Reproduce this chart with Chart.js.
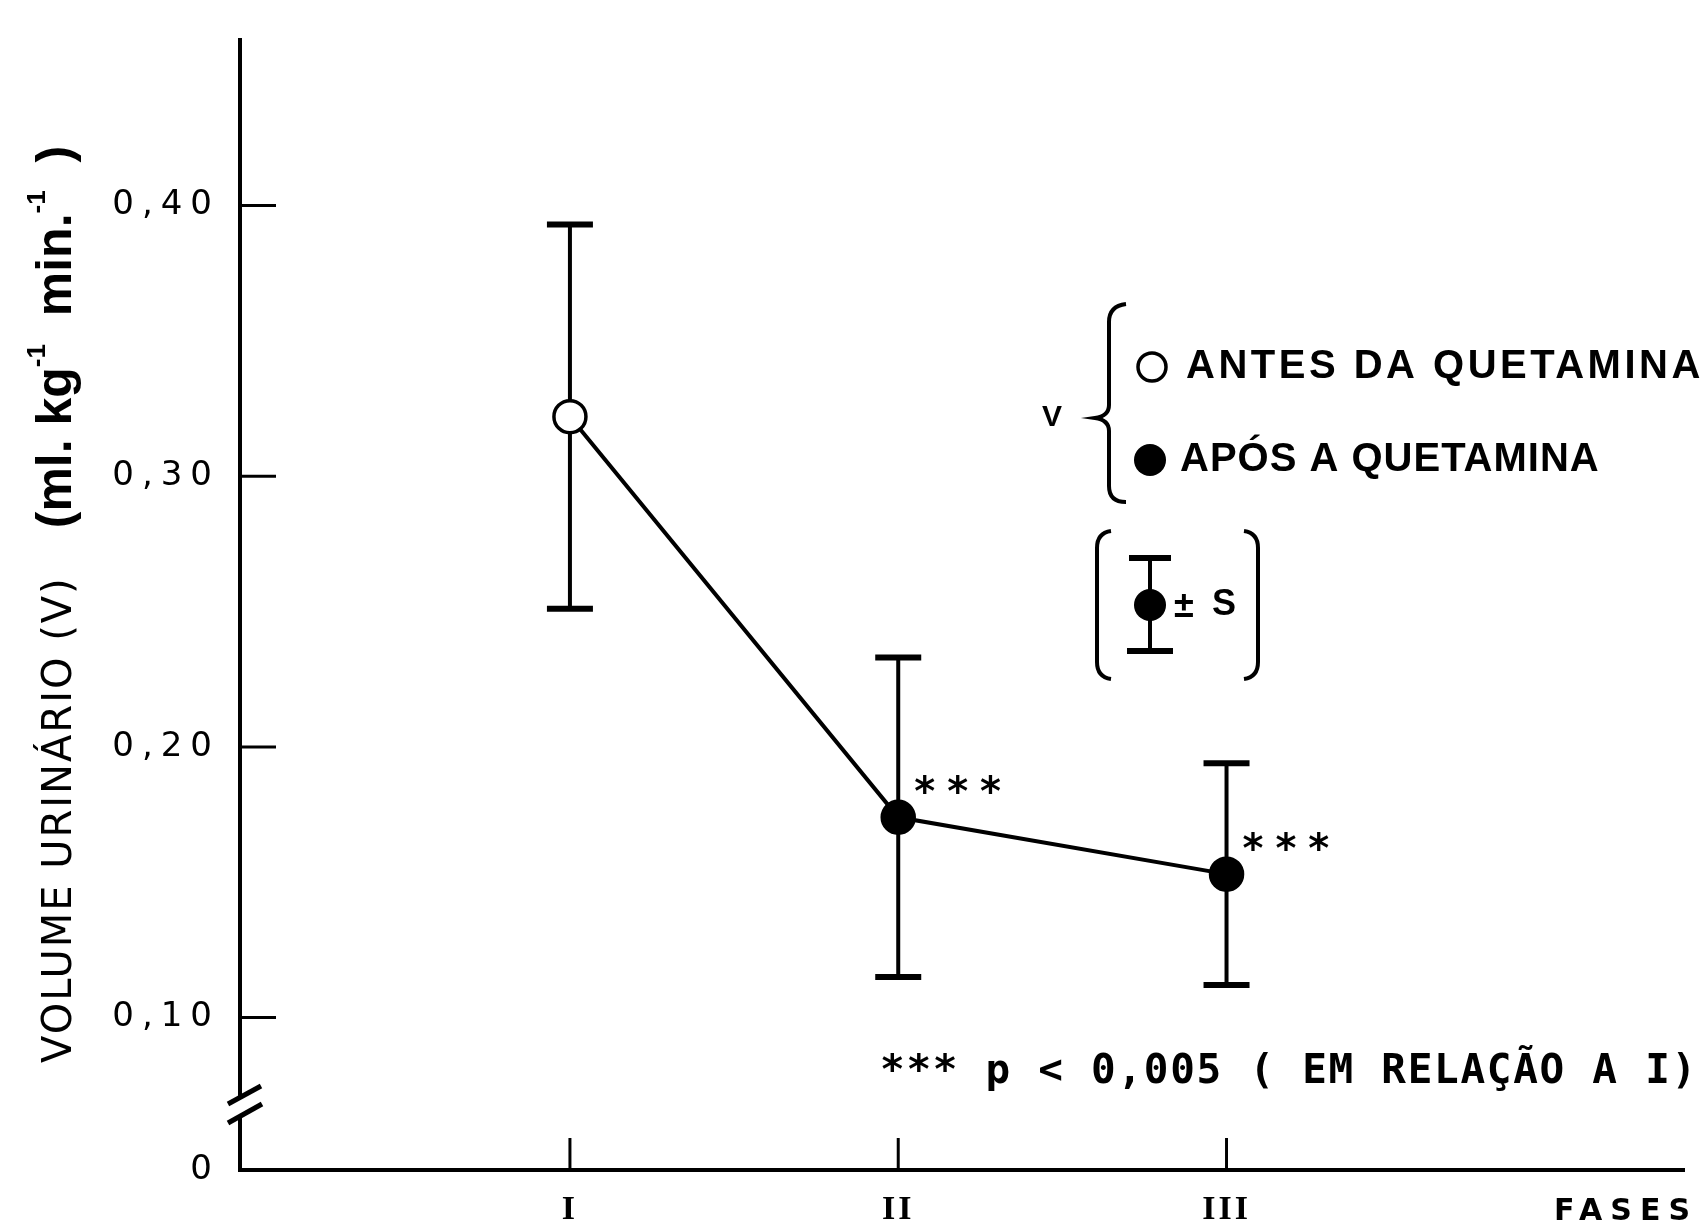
<!DOCTYPE html>
<html>
<head>
<meta charset="utf-8">
<script src="https://cdn.jsdelivr.net/npm/chart.js@4.4.1/dist/chart.umd.min.js"></script>
<style>
  html, body { margin: 0; padding: 0; background: #fff; }
  #wrap { width: 1704px; height: 1229px; }
</style>
</head>
<body>
<div id="wrap"><canvas id="volumeChart"></canvas></div>
<script>
// Fases do experimento e volume urinario (media +- desvio)
const fases = ['I', 'II', 'III'];
const faseX = [1, 2, 3];
const volumeMedio = [0.322, 0.174, 0.153];
const desvioPadrao = [0.071, 0.059, 0.041];
const aposQuetamina = [false, true, true];
const significativo = [false, true, true];

// eixo Y com quebra: o fundo do eixo vale "0"
const yTicks = [0.10, 0.20, 0.30, 0.40];
const yTickLabels = ['0,10', '0,20', '0,30', '0,40'];
const yMin = 0.0437;
const yMax = 0.461;

function line(ctx, x1, y1, x2, y2) {
    ctx.beginPath();
    ctx.moveTo(x1, y1);
    ctx.lineTo(x2, y2);
    ctx.stroke();
}

// barras de erro atras dos pontos
const errorBars = {
    id: 'errorBars',
    beforeDatasetsDraw(chart) {
        const { ctx, scales: { x, y } } = chart;
        ctx.save();
        ctx.strokeStyle = '#000';
        faseX.forEach((fx, i) => {
            const px = x.getPixelForValue(fx);
            const top = y.getPixelForValue(volumeMedio[i] + desvioPadrao[i]);
            const bot = y.getPixelForValue(volumeMedio[i] - desvioPadrao[i]);
            ctx.lineWidth = 4;
            line(ctx, px, top, px, bot);
            ctx.lineWidth = 6;
            line(ctx, px - 23, top, px + 23, top);
            line(ctx, px - 23, bot, px + 23, bot);
        });
        ctx.restore();
    }
};

// marcas dos eixos para dentro, quebra do eixo, textos extras
const extras = {
    id: 'extras',
    beforeDraw(chart) {
        chart.ctx.letterSpacing = '3px';   // rotulos I, II, III
    },
    afterDatasetsDraw(chart) {
        chart.ctx.letterSpacing = '8px';   // rotulos 0,10 ... 0,40 (ticks.z = 1)
    },
    afterDraw(chart) {
        const { ctx, scales: { x, y } } = chart;
        ctx.save();
        ctx.letterSpacing = '0px';
        ctx.strokeStyle = '#000';
        ctx.fillStyle = '#000';
        ctx.lineWidth = 3;
        y.ticks.forEach(t => {
            if (t.value <= yMin) return;
            const py = y.getPixelForValue(t.value);
            line(ctx, x.left, py, x.left + 36, py);
        });
        x.ticks.forEach(t => {
            const px = x.getPixelForValue(t.value);
            line(ctx, px, y.bottom, px, y.bottom - 32);
        });

        // quebra do eixo Y
        ctx.fillStyle = '#fff';
        ctx.fillRect(x.left - 4, 1097, 8, 18);
        ctx.fillStyle = '#000';
        ctx.lineWidth = 5;
        line(ctx, x.left - 12, 1104, x.left + 21, 1086);
        line(ctx, x.left - 12, 1123, x.left + 22, 1104);

        // titulo do eixo Y
        ctx.save();
        ctx.translate(71, 1063);
        ctx.rotate(-Math.PI / 2);
        ctx.textBaseline = 'alphabetic';
        let cx = 0;
        const seg = (txt, font, rise, spacing) => {
            ctx.font = font;
            ctx.letterSpacing = spacing || '0px';
            ctx.fillText(txt, cx, -rise);
            cx += ctx.measureText(txt).width;
        };
        seg('VOLUME URINÁRIO (V)', '40px "DejaVu Sans"', 0, '2px');
        cx += 48;
        seg('(ml. kg', 'bold 50px "Liberation Sans"', 0);
        seg('-1', 'bold 26px "Liberation Sans"', 26);
        seg('  min.', 'bold 50px "Liberation Sans"', 0);
        seg('-1', 'bold 26px "Liberation Sans"', 26);
        seg('  )', 'bold 50px "Liberation Sans"', 0);
        ctx.restore();

        // legenda
        ctx.textBaseline = 'middle';
        ctx.textAlign = 'left';
        ctx.font = 'bold 30px "Liberation Sans"';
        ctx.fillText('V', 1042, 418);
        ctx.lineWidth = 4;
        ctx.beginPath();
        ctx.moveTo(1126, 304);
        ctx.quadraticCurveTo(1109, 306, 1109, 322);
        ctx.lineTo(1109, 405);
        ctx.quadraticCurveTo(1109, 416, 1095, 418);
        ctx.quadraticCurveTo(1109, 420, 1109, 431);
        ctx.lineTo(1109, 486);
        ctx.quadraticCurveTo(1109, 502, 1126, 502);
        ctx.stroke();

        ctx.lineWidth = 3.5;
        ctx.beginPath();
        ctx.arc(1152, 367, 14, 0, Math.PI * 2);
        ctx.stroke();
        ctx.beginPath();
        ctx.arc(1150, 460, 16, 0, Math.PI * 2);
        ctx.fill();
        ctx.font = 'bold 40px "Liberation Sans"';
        ctx.letterSpacing = '3.5px';
        ctx.fillText('ANTES DA QUETAMINA', 1186, 367);
        ctx.letterSpacing = '1px';
        ctx.fillText('APÓS A QUETAMINA', 1180, 460);

        // [ I = S ]
        ctx.letterSpacing = '0px';
        ctx.lineWidth = 4;
        ctx.beginPath();
        ctx.moveTo(1111, 531);
        ctx.quadraticCurveTo(1097, 533, 1097, 548);
        ctx.lineTo(1097, 662);
        ctx.quadraticCurveTo(1097, 677, 1111, 679);
        ctx.stroke();
        ctx.beginPath();
        ctx.moveTo(1244, 531);
        ctx.quadraticCurveTo(1258, 533, 1258, 548);
        ctx.lineTo(1258, 662);
        ctx.quadraticCurveTo(1258, 677, 1244, 679);
        ctx.stroke();
        line(ctx, 1150, 558, 1150, 651);
        ctx.lineWidth = 6;
        line(ctx, 1129, 558, 1171, 558);
        line(ctx, 1127, 651, 1173, 651);
        ctx.beginPath();
        ctx.arc(1150, 605, 16, 0, Math.PI * 2);
        ctx.fill();
        ctx.font = 'bold 36px "Liberation Sans"';
        ctx.fillText('±', 1174, 607);
        ctx.fillText('S', 1212, 605);

        // asteriscos de significancia
        ctx.font = 'bold 40px "DejaVu Sans"';
        ctx.letterSpacing = '12px';
        ctx.textBaseline = 'alphabetic';
        faseX.forEach((fx, i) => {
            if (!significativo[i]) return;
            const px = x.getPixelForValue(fx);
            const py = y.getPixelForValue(volumeMedio[i]);
            ctx.fillText('***', px + 16, py - 12);
        });

        // nota de rodape
        ctx.font = 'bold 41px "DejaVu Sans Mono"';
        ctx.letterSpacing = '1.7px';
        ctx.textBaseline = 'middle';
        ctx.fillText('*** p < 0,005 ( EM RELAÇÃO A I)', 880, 1072);

        // FASES
        ctx.font = 'bold 30px "DejaVu Sans"';
        ctx.letterSpacing = '8px';
        ctx.textAlign = 'center';
        ctx.fillText('FASES', 1626, 1212);
        ctx.restore();
    }
};

window.addEventListener('DOMContentLoaded', () => {
    const ctx = document.getElementById('volumeChart').getContext('2d');
    new Chart(ctx, {
        type: 'line',
        data: {
            datasets: [{
                label: 'V',
                data: faseX.map((fx, i) => ({ x: fx, y: volumeMedio[i] })),
                borderColor: '#000',
                borderWidth: 4,
                tension: 0,
                pointRadius: 16,
                pointBorderWidth: 3.5,
                pointBorderColor: '#000',
                pointBackgroundColor: aposQuetamina.map(a => a ? '#000' : '#fff'),
                clip: false
            }]
        },
        options: {
            responsive: true,
            maintainAspectRatio: false,
            animation: false,
            layout: { padding: { top: 30, right: 10, left: 0, bottom: 0 } },
            plugins: {
                legend: { display: false },
                tooltip: { enabled: false }
            },
            scales: {
                x: {
                    type: 'linear',
                    min: -0.005,
                    max: 4.395,
                    afterBuildTicks: scale => { scale.ticks = faseX.map(v => ({ value: v })); },
                    afterFit: scale => { scale.height = 59; },
                    grid: { display: false, drawTicks: false },
                    border: { display: true, color: '#000', width: 4 },
                    ticks: {
                        autoSkip: false,
                        maxRotation: 0,
                        padding: 20,
                        color: '#000',
                        font: { family: 'Liberation Serif', weight: 'bold', size: 34 },
                        callback: (v, i) => fases[i]
                    }
                },
                y: {
                    type: 'linear',
                    min: yMin,
                    max: yMax,
                    afterBuildTicks: scale => {
                        scale.ticks = [yMin, ...yTicks].map(v => ({ value: v }));
                    },
                    afterFit: scale => { scale.width = 240; },
                    grid: { display: false, drawTicks: false },
                    border: { display: true, color: '#000', width: 4 },
                    ticks: {
                        z: 1,
                        autoSkip: false,
                        padding: 20,
                        color: '#000',
                        font: { family: 'DejaVu Sans', size: 34 },
                        callback: (v, i) => i === 0 ? '0' : yTickLabels[i - 1]
                    }
                }
            }
        },
        plugins: [errorBars, extras]
    });
});
</script>
</body>
</html>
